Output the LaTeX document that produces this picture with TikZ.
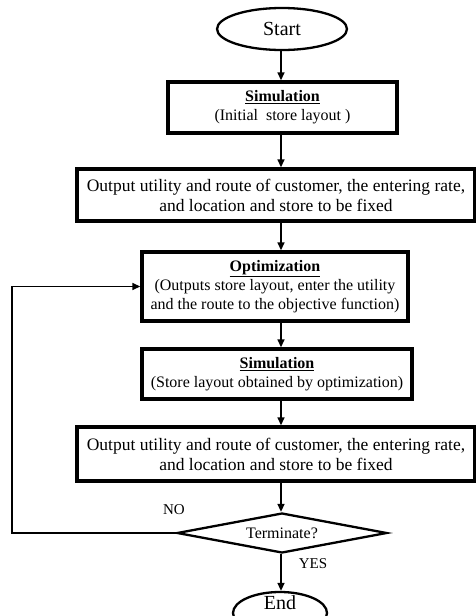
\documentclass[tikz,border=0pt]{standalone}
\usepackage{fontspec}
\setmainfont{Liberation Serif}
\usetikzlibrary{shapes.geometric,arrows.meta}

\tikzset{
	box/.style={draw, line width=3.4pt, align=center, inner sep=2pt, font=\fontsize{16pt}{19pt}\selectfont},
	outbox/.style={box, font=\fontsize{17.5pt}{20pt}\selectfont},
	term/.style={draw, ellipse, line width=2.3pt, inner sep=0pt, font=\fontsize{20pt}{22pt}\selectfont},
	dec/.style={draw, diamond, aspect=5, line width=2.3pt, inner sep=0pt, font=\fontsize{16pt}{18pt}\selectfont},
	arr/.style={-{Triangle[length=8pt,width=7pt]}, line width=1.5pt},
	lbl/.style={font=\fontsize{15pt}{17pt}\selectfont}
}

\begin{document}
\begin{tikzpicture}[x=1pt,y=-1pt]
			\useasboundingbox (0,0) rectangle (476,616);
			\clip (0,0) rectangle (476,616);
			\coordinate (axis) at (281,0);

			\node[term, minimum width=130pt, minimum height=42pt] at (282,29) (start) {Start};
			\node[box, minimum width=229pt, minimum height=51pt] at (282.5,107.5) (sim1) {\underline{\textbf{Simulation}}\\(Initial\ \ store layout )};
			\node[outbox, minimum width=398pt, minimum height=52pt] at (276,195) (out1) {Output utility and route of customer, the entering rate,\\and location and store to be fixed};
			\node[box, minimum width=266pt, minimum height=69pt] at (275,286.5) (opt) {\underline{\textbf{Optimization}}\\(Outputs store layout, enter the utility\\and the route to the objective function)};
			\node[box, minimum width=270pt, minimum height=50pt] at (277,374) (sim2) {\underline{\textbf{Simulation}}\\(Store layout obtained by optimization)};
			\node[outbox, minimum width=398pt, minimum height=54pt] at (276,454) (out2) {Output utility and route of customer, the entering rate,\\and location and store to be fixed};
			\node[dec, minimum width=210pt, minimum height=40pt] at (282,533) (stop) {Terminate?};
			\node[term, minimum width=94pt, minimum height=42pt] at (280,613) (end) {};
			\node[term, draw=none] at (280,603) (endtxt) {End};

			\node[lbl] at (174,510) (no) {NO};
			\node[lbl] at (313,564) (yes) {YES};
			\coordinate (loop) at (12,533);

			\draw[arr] (start.south -| axis) -- (sim1.north -| axis);
			\draw[arr] (sim1.south -| axis) -- (out1.north -| axis);
			\draw[arr] (out1.south -| axis) -- (opt.north -| axis);
			\draw[arr] (opt.south -| axis) -- (sim2.north -| axis);
			\draw[arr] (sim2.south -| axis) -- (out2.north -| axis);
			\draw[arr] (out2.south -| axis) -- (stop.north -| axis);
			\draw[arr] (stop.south -| axis) -- (end.north -| axis);
			\draw[arr] (stop.west) -- (loop) |- (opt.west);
		\end{tikzpicture}
\end{document}
